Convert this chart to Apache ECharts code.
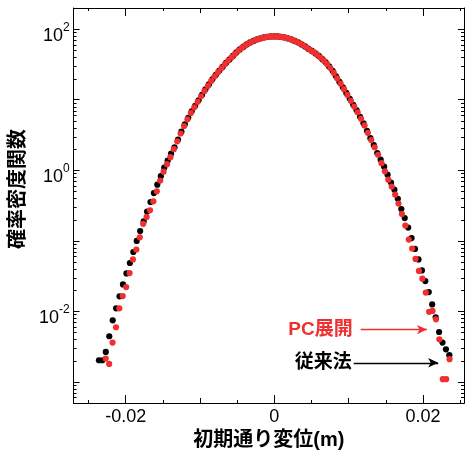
<!DOCTYPE html>
<html>
<head>
<meta charset="utf-8">
<script src="https://cdn.jsdelivr.net/npm/echarts@6/dist/echarts.min.js"></script>
<style>
  html, body { margin: 0; padding: 0; background: #fff; }
  #chart { width: 467px; height: 457px; }
</style>
</head>
<body>
<div id="chart"></div>
<script>
// 従来法 (black)
const blackX = [
  -0.02359, -0.02313, -0.02267, -0.02220, -0.02174, -0.02128, -0.02082, -0.02036, -0.01989, -0.01943,
  -0.01897, -0.01851, -0.01805, -0.01758, -0.01712, -0.01666, -0.01620, -0.01574, -0.01527, -0.01481,
  -0.01435, -0.01389, -0.01343, -0.01296, -0.01250, -0.01204, -0.01158, -0.01112, -0.01065, -0.01019,
  -0.00973, -0.00927, -0.00881, -0.00834, -0.00788, -0.00742, -0.00696, -0.00650, -0.00603, -0.00557,
  -0.00511, -0.00465, -0.00419, -0.00372, -0.00326, -0.00280, -0.00234, -0.00188, -0.00141, -0.00095,
  -0.00049, -0.00003, 0.00043, 0.00090, 0.00136, 0.00182, 0.00228, 0.00274, 0.00321, 0.00367,
  0.00413, 0.00459, 0.00505, 0.00552, 0.00598, 0.00644, 0.00690, 0.00736, 0.00783, 0.00829,
  0.00875, 0.00921, 0.00967, 0.01014, 0.01060, 0.01106, 0.01152, 0.01198, 0.01245, 0.01291,
  0.01337, 0.01383, 0.01429, 0.01476, 0.01522, 0.01568, 0.01614, 0.01660, 0.01707, 0.01753,
  0.01799, 0.01845, 0.01891, 0.01938, 0.01984, 0.02030, 0.02076, 0.02122, 0.02169, 0.02215,
  0.02261, 0.02307, 0.02353
];
const blackY = [
  0.00202, 0.00202, 0.00265, 0.00442, 0.00745, 0.0110, 0.0163, 0.0240, 0.0344, 0.0484,
  0.0693, 0.0993, 0.137, 0.188, 0.259, 0.354, 0.474, 0.625, 0.825, 1.088,
  1.367, 1.718, 2.12, 2.71, 3.52, 4.49, 5.55, 6.86, 8.20, 9.82,
  11.7, 14.05, 16.5, 19.5, 22.5, 25.7, 29.2, 33.3, 37.3, 41.8,
  46.9, 51.7, 56.1, 60.8, 65.0, 68.2, 71.6, 74.0, 76.4, 77.7,
  79.0, 79.0, 79.0, 77.7, 76.4, 74.0, 71.6, 68.2, 65.0, 60.8,
  57.0, 52.6, 49.3, 45.4, 41.8, 37.6, 33.9, 29.7, 25.7, 21.5,
  17.9, 15.0, 12.5, 10.3, 8.48, 7.09, 5.73, 4.64, 3.63, 2.85,
  2.27, 1.75, 1.41, 1.124, 0.866, 0.668, 0.531, 0.393, 0.282, 0.210,
  0.154, 0.109, 0.0765, 0.0543, 0.0380, 0.0268, 0.0187, 0.0125, 0.00821, 0.00508,
  0.00360, 0.00289, 0.00238
];

// PC展開 (red)
const redX = [
  -0.02268, -0.02222, -0.02176, -0.02130, -0.02085, -0.02039, -0.01993, -0.01947, -0.01902, -0.01856,
  -0.01810, -0.01764, -0.01718, -0.01673, -0.01627, -0.01581, -0.01535, -0.01490, -0.01444, -0.01398,
  -0.01352, -0.01306, -0.01261, -0.01215, -0.01169, -0.01123, -0.01077, -0.01032, -0.00986, -0.00940,
  -0.00894, -0.00849, -0.00803, -0.00757, -0.00711, -0.00665, -0.00620, -0.00574, -0.00528, -0.00482,
  -0.00436, -0.00391, -0.00345, -0.00299, -0.00253, -0.00208, -0.00162, -0.00116, -0.00070, -0.00024,
  0.00021, 0.00067, 0.00113, 0.00159, 0.00205, 0.00250, 0.00296, 0.00342, 0.00388, 0.00433,
  0.00479, 0.00525, 0.00571, 0.00617, 0.00662, 0.00708, 0.00754, 0.00800, 0.00845, 0.00891,
  0.00937, 0.00983, 0.01029, 0.01074, 0.01120, 0.01166, 0.01212, 0.01257, 0.01303, 0.01349,
  0.01395, 0.01441, 0.01486, 0.01532, 0.01578, 0.01624, 0.01669, 0.01715, 0.01761, 0.01807,
  0.01853, 0.01898, 0.01944, 0.01990, 0.02036, 0.02081, 0.02127, 0.02173, 0.02219, 0.02265,
  0.02310, 0.02356
];
const redY = [
  0.00214, 0.00179, 0.00360, 0.00593, 0.0110, 0.0164, 0.0220, 0.0348, 0.0543, 0.0752,
  0.112, 0.174, 0.218, 0.271, 0.363, 0.503, 0.713, 0.955, 1.22, 1.53,
  1.99, 2.57, 3.32, 4.24, 5.27, 6.50, 7.83, 9.35, 11.2, 13.3,
  15.7, 18.5, 21.5, 24.6, 28.0, 31.9, 35.9, 40.2, 45.0, 49.8,
  54.4, 58.9, 63.2, 66.8, 70.2, 72.9, 75.3, 77.1, 78.4, 79.0,
  79.0, 78.3, 77.1, 75.2, 72.8, 70.0, 66.7, 63.0, 59.1, 55.0,
  51.1, 47.6, 43.9, 40.0, 36.1, 32.2, 28.1, 24.0, 20.1, 16.9,
  14.1, 11.7, 9.67, 8.01, 6.64, 5.38, 4.32, 3.39, 2.68, 2.12,
  1.66, 1.26, 0.965, 0.736, 0.586, 0.452, 0.337, 0.239, 0.164, 0.104,
  0.0777, 0.0552, 0.0373, 0.0290, 0.0184, 0.00982, 0.0101, 0.00769, 0.00401, 0.00109,
  0.00109, 0.00209
];

// 注記の矢印 (data coords)
const redArrowX = [0.01161, 0.02052];
const redArrowY = 0.0055;
const blackArrowX = [0.01067, 0.02203];
const blackArrowY = 0.00186;

const xMin = -0.027, xMax = 0.0255;
const yMin = 0.0005, yMax = 200;

const FONT = "'Liberation Sans', 'Noto Sans CJK JP', sans-serif";
const RED = '#f03030';

const zip = (xs, ys) => xs.map((x, i) => [x, ys[i]]);

const chart = echarts.init(document.getElementById('chart'), null, { renderer: 'canvas' });

function xTickLabel(v) {
  const r = Math.round(v / 0.02);
  if (Math.abs(v - r * 0.02) > 1e-9) return '';
  return r === 0 ? '0' : (r * 0.02).toFixed(2);
}
function yTickLabel(v) {
  const e = Math.log10(v);
  const r = Math.round(e);
  if (Math.abs(e - r) > 1e-6 || r % 2 !== 0) return '';
  return '{a|10}{b|' + r + '}';
}

const axisLine = { show: true, onZero: false, lineStyle: { color: '#000', width: 1 } };
function xAxisOf(pos, split, main) {
  return {
    type: 'value', position: pos, min: xMin, max: xMax, splitNumber: split,
    axisLine: axisLine,
    axisTick: { show: true, inside: true, length: main ? 8 : 5, lineStyle: { color: '#000', width: 1 } },
    minorTick: { show: !main, splitNumber: 2, length: 3, lineStyle: { color: '#000', width: 1 } },
    splitLine: { show: false },
    axisLabel: { show: false }
  };
}

const bottomMain = xAxisOf('bottom', 3, true);
bottomMain.axisLabel = {
  show: true, interval: 0, margin: 5, formatter: xTickLabel,
  color: '#000', fontSize: 18, fontFamily: FONT
};
bottomMain.name = '初期通り変位(m)';
bottomMain.nameLocation = 'middle';
bottomMain.nameGap = 26;
bottomMain.nameTextStyle = { color: '#000', fontSize: 20, fontWeight: 'bold', fontFamily: FONT };

const option = {
  animation: false,
  backgroundColor: '#fff',
  grid: { left: 71, right: 3, top: 8, bottom: 54, containLabel: false },
  xAxis: [
    bottomMain,
    xAxisOf('bottom', 5, false),
    xAxisOf('top', 3, true),
    xAxisOf('top', 5, false)
  ],
  yAxis: [
    {
      type: 'log', logBase: 10, position: 'left', min: yMin, max: yMax, splitNumber: 5,
      axisLine: axisLine,
      axisTick: { show: true, inside: true, length: 6, lineStyle: { color: '#000', width: 1 } },
      splitLine: { show: false },
      axisLabel: {
        show: true, margin: 4, padding: [8, 0, 0, 0], formatter: yTickLabel,
        rich: {
          a: { fontSize: 18, fontFamily: FONT, color: '#000', lineHeight: 24, verticalAlign: 'bottom' },
          b: { fontSize: 12, fontFamily: FONT, color: '#000', lineHeight: 12, verticalAlign: 'top' }
        }
      },
      name: '確率密度関数',
      nameLocation: 'middle',
      nameRotate: 90,
      nameGap: 36,
      nameTextStyle: { color: '#000', fontSize: 20, fontWeight: 'bold', fontFamily: FONT, padding: [0, 0, 0, 33] }
    },
    {
      type: 'log', logBase: 10, position: 'right', min: yMin, max: yMax, splitNumber: 5,
      axisLine: axisLine,
      axisTick: { show: true, inside: true, length: 6, lineStyle: { color: '#000', width: 1 } },
      splitLine: { show: false },
      axisLabel: { show: false }
    }
  ],
  series: [
    {
      name: '従来法', type: 'scatter', xAxisIndex: 0, yAxisIndex: 0,
      symbol: 'circle', symbolSize: 6.2,
      itemStyle: { color: '#000', opacity: 1 },
      data: zip(blackX, blackY),
      markLine: {
        silent: true, animation: false,
        symbol: ['none', 'arrow'], symbolSize: [7, 10],
        lineStyle: { color: '#000', width: 1.3, type: 'solid', opacity: 1 },
        label: { show: true, position: 'start', distance: 2, formatter: '従来法', color: '#000', fontSize: 19, fontWeight: 'bold', fontFamily: FONT },
        data: [[{ coord: [blackArrowX[0], blackArrowY] }, { coord: [blackArrowX[1], blackArrowY] }]]
      }
    },
    {
      name: 'PC展開', type: 'scatter', xAxisIndex: 0, yAxisIndex: 0,
      symbol: 'circle', symbolSize: 6.2,
      itemStyle: { color: RED, opacity: 1 },
      data: zip(redX, redY),
      markLine: {
        silent: true, animation: false,
        symbol: ['none', 'arrow'], symbolSize: [7, 10],
        lineStyle: { color: RED, width: 1.3, type: 'solid', opacity: 1 },
        label: { show: true, position: 'start', distance: 8, formatter: 'PC展開', color: RED, fontSize: 19, fontWeight: 'bold', fontFamily: FONT },
        data: [[{ coord: [redArrowX[0], redArrowY] }, { coord: [redArrowX[1], redArrowY] }]]
      }
    }
  ]
};

chart.setOption(option);

// 対数軸の補助目盛 (2..9 × 10^k)
const xl = chart.convertToPixel({ xAxisIndex: 0 }, xMin);
const xr = chart.convertToPixel({ xAxisIndex: 0 }, xMax);
const minor = [];
for (let k = -4; k <= 2; k++) {
  for (let m = 2; m <= 9; m++) {
    const v = m * Math.pow(10, k);
    if (v <= yMin || v >= yMax) continue;
    const py = Math.round(chart.convertToPixel({ yAxisIndex: 0 }, v)) + 0.5;
    minor.push({ type: 'line', shape: { x1: xl, y1: py, x2: xl + 3, y2: py }, style: { stroke: '#000', lineWidth: 1 }, silent: true });
    minor.push({ type: 'line', shape: { x1: xr - 3, y1: py, x2: xr, y2: py }, style: { stroke: '#000', lineWidth: 1 }, silent: true });
  }
}
chart.setOption({ graphic: minor });
</script>
</body>
</html>
